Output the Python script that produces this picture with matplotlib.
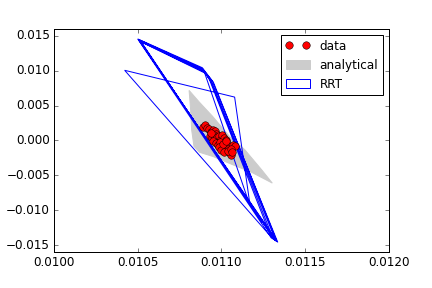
import matplotlib
matplotlib.use("Agg")
import matplotlib.pyplot as plt

plt.style.use("classic")

# measured points
data_x = [0.010893, 0.010905, 0.010912, 0.010925, 0.010935, 0.010948, 0.010960, 0.010968,
          0.010930, 0.010942, 0.010955, 0.010975, 0.010988, 0.010996, 0.011005, 0.011015,
          0.011025, 0.011030, 0.010950, 0.010965, 0.010980, 0.010992, 0.011002, 0.011012,
          0.011022, 0.011035, 0.011042, 0.011050, 0.011060, 0.011072, 0.011080, 0.010985,
          0.011000, 0.011018, 0.011040, 0.011055, 0.011010, 0.011030, 0.011065, 0.010940]
data_y = [0.00190, 0.00214, 0.00175, 0.00160, 0.00120, 0.00150, 0.00130, 0.00095,
          0.00060, 0.00036, 0.00080, 0.00050, 0.00060, 0.00020, 0.00084, 0.00040,
          0.00012, -0.00030, -0.00010, -0.00035, -0.00060, -0.00020, -0.00080, -0.00110,
          -0.00050, -0.00084, -0.00130, -0.00180, -0.00204, -0.00060, -0.00080, -0.00100,
          -0.00132, -0.00160, -0.00150, -0.00120, -0.00045, -0.00010, -0.00170, 0.00100]

# analytical region outline
ana_x = [0.010807, 0.010870, 0.010948, 0.011049, 0.011139, 0.011240, 0.011304,
         0.011186, 0.011067, 0.010948, 0.010870, 0.010836, 0.010822, 0.010816]
ana_y = [0.00717, 0.00544, 0.00343, 0.00055, -0.00132, -0.00420, -0.00612,
         -0.00464, -0.00348, -0.00229, -0.00171, -0.00085, 0.00156, 0.00444]

# RRT polygon vertices
rrt_x = [0.010500, 0.010886, 0.010946, 0.011337,
         0.010503, 0.010888, 0.010952, 0.011332,
         0.010508, 0.010892, 0.010943, 0.011326,
         0.010512, 0.010896, 0.011160, 0.011320,
         0.010516, 0.010900, 0.010935, 0.011312,
         0.010422, 0.011079, 0.011168, 0.011245,
         0.010522, 0.010906, 0.010928, 0.011300]
rrt_y = [0.01455, 0.01042, 0.00850, -0.01462,
         0.01448, 0.01025, 0.00835, -0.01455,
         0.01440, 0.01010, 0.00822, -0.01446,
         0.01430, 0.00995, -0.00860, -0.01436,
         0.01420, 0.00978, 0.00860, -0.01424,
         0.01005, 0.00621, -0.00878, -0.01184,
         0.01410, 0.00960, 0.00875, -0.01405]

fig = plt.figure(figsize=(6, 4), dpi=72)
plt.subplots_adjust(bottom=0.125)
plt.plot(data_x, data_y, "ro", markersize=7.5, label="data")
plt.fill(ana_x, ana_y, color="0.8", label="analytical")
plt.fill(rrt_x, rrt_y, fill=False, edgecolor="b", label="RRT")
plt.xlim(0.0100, 0.0120)
plt.ylim(-0.016, 0.016)
plt.gca().ticklabel_format(useOffset=False)
plt.legend(loc="upper right", fontsize=12)
plt.savefig("out.png", dpi=72)
